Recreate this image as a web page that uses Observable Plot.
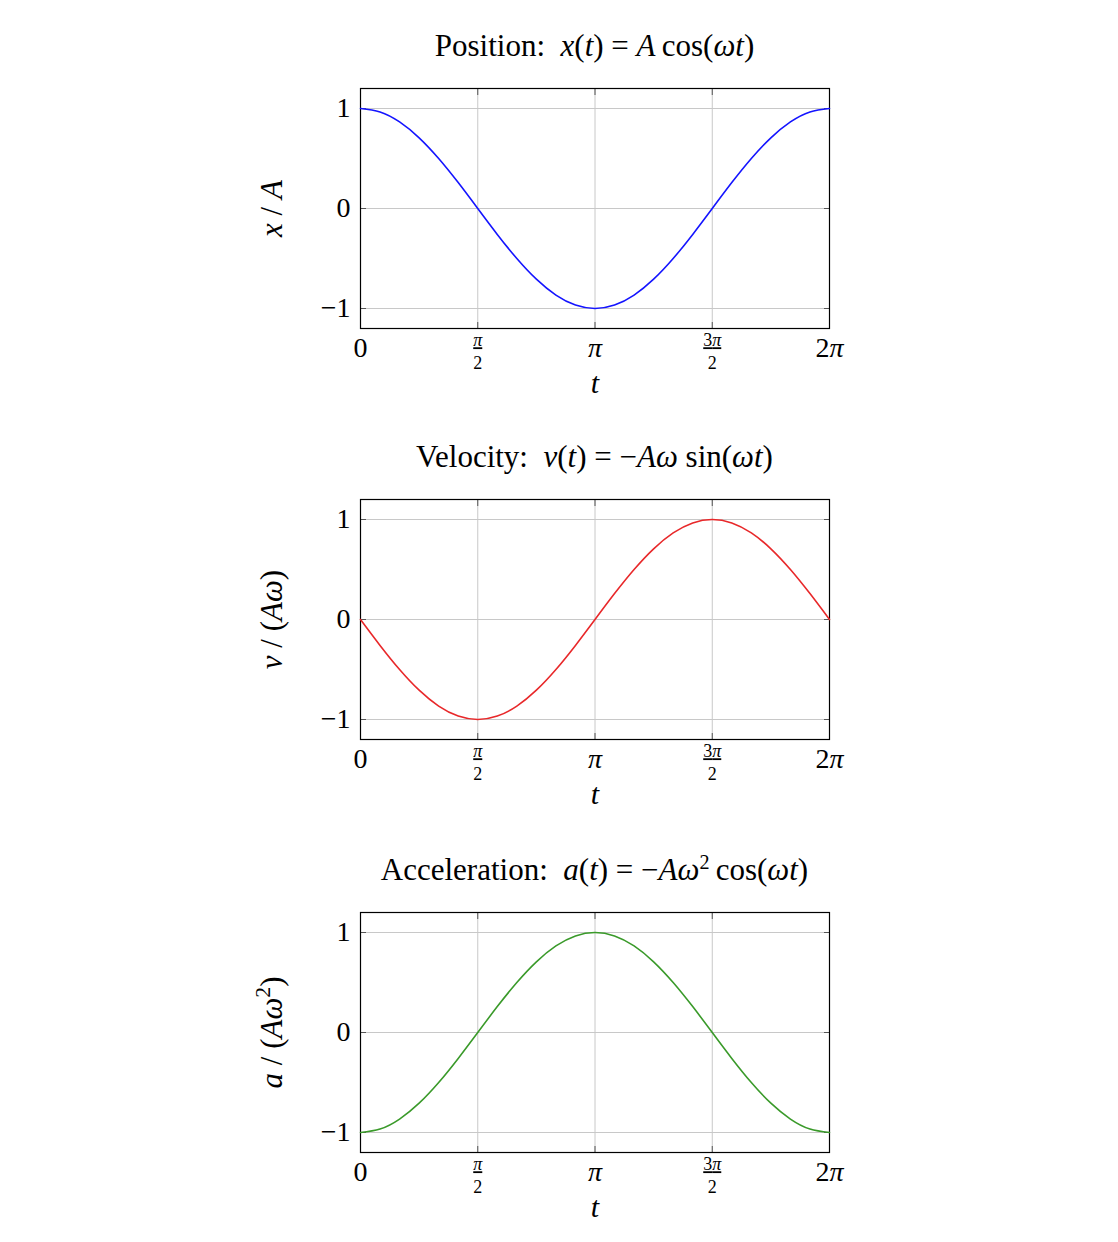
<!DOCTYPE html>
<html>
<head>
<meta charset="utf-8">
<script src="https://cdn.jsdelivr.net/npm/d3@7"></script>
<script src="https://cdn.jsdelivr.net/npm/@observablehq/plot@0.6"></script>
<style>
  html, body { margin: 0; padding: 0; background: #fff; }
  #root { position: relative; width: 1118px; height: 1242px; font-family: "Liberation Serif", serif; }
  .panel { position: absolute; left: 0; width: 1118px; }
  .title { position: absolute; left: 200px; width: 789px; text-align: center; font-size: 31px; line-height: 34px; color: #000; white-space: pre; }
  .title i { font-style: italic; }
</style>
</head>
<body>
<div id="root"></div>
<script>
// time samples in units of π (0 … 2π, step π/12)
const tOverPi = [0, 1/12, 2/12, 3/12, 4/12, 5/12, 6/12, 7/12, 8/12, 9/12, 10/12, 11/12, 1,
  13/12, 14/12, 15/12, 16/12, 17/12, 18/12, 19/12, 20/12, 21/12, 22/12, 23/12, 2];

// values (normalised)
const position = [1, 0.966, 0.866, 0.707, 0.5, 0.259, 0, -0.259, -0.5, -0.707, -0.866, -0.966, -1,
  -0.966, -0.866, -0.707, -0.5, -0.259, 0, 0.259, 0.5, 0.707, 0.866, 0.966, 1];
const velocity = [0, -0.259, -0.5, -0.707, -0.866, -0.966, -1, -0.966, -0.866, -0.707, -0.5, -0.259, 0,
  0.259, 0.5, 0.707, 0.866, 0.966, 1, 0.966, 0.866, 0.707, 0.5, 0.259, 0];
const acceleration = [-1, -0.966, -0.866, -0.707, -0.5, -0.259, 0, 0.259, 0.5, 0.707, 0.866, 0.966, 1,
  0.966, 0.866, 0.707, 0.5, 0.259, 0, -0.259, -0.5, -0.707, -0.866, -0.966, -1];

// tick labels
const xTickPos = [0, 0.5, 1, 1.5, 2];
const xTickNum = ["0", "π", "π", "3π", "2π"];
const xTickDen = [null, "2", null, "2", null];
const yTicks = [-1, 0, 1];

const panels = [
  { values: position, color: "#1414ff", top: 0,
    title: [["Position:  ", false], ["x", true], ["(", false], ["t", true], [")\u2005=\u2005", false], ["A", true], ["\u2009cos(", false], ["ω", true], ["t", true], [")", false]],
    ylabel: [["x", true], [" / ", false], ["A", true]] },
  { values: velocity, color: "#e8282a", top: 411,
    title: [["Velocity:  ", false], ["v", true], ["(", false], ["t", true], [")\u2005=\u2005−", false], ["A", true], ["ω", true], [" sin(", false], ["ω", true], ["t", true], [")", false]],
    ylabel: [["v", true], [" / (", false], ["A", true], ["ω", true], [")", false]] },
  { values: acceleration, color: "#3a9a2a", top: 824,
    title: [["Acceleration:  ", false], ["a", true], ["(", false], ["t", true], [")\u2005=\u2005−", false], ["A", true], ["ω", true], ["2", false, true], ["\u2009cos(", false], ["ω", true], ["t", true], [")", false]],
    ylabel: [["a", true], [" / (", false], ["A", true], ["ω", true], ["2", false, true], [")", false]] }
];

const root = document.getElementById("root");
const fmtY = d => d < 0 ? "−" + (-d) : String(d);

function fillRich(sel, parts) {
  sel.text(null);
  for (const [s, it, sup] of parts) {
    const ts = sel.append("tspan").text(s);
    if (it) ts.attr("font-style", "italic");
    if (sup) ts.attr("font-size", "0.7em").attr("baseline-shift", "super");
  }
}
// set π in math italic inside a tick label
function italicPi(textSel) {
  textSel.each(function () {
    const s = this.textContent;
    if (!s.includes("π")) return;
    const el = d3.select(this);
    const parts = s.split(/(π)/).filter(x => x.length).map(x => [x, x === "π"]);
    fillRich(el, parts);
  });
}

const NUM_FILL = "#000001";
const YLAB_FILL = "#000002";
const XT_FILL = "#000003";
const DEN_FILL = "#000004";

for (const p of panels) {
  const data = tOverPi.map((t, i) => ({ t, v: p.values[i] }));
  const ticks = xTickPos.map((x, i) => ({ x, num: xTickNum[i], den: xTickDen[i] }));

  const chart = Plot.plot({
    width: 1118,
    height: 411,
    marginLeft: 360,
    marginRight: 289,
    marginTop: 88,
    marginBottom: 83,
    style: { fontFamily: "Liberation Serif, serif", background: "transparent", overflow: "visible" },
    x: { domain: [0, 2], ticks: xTickPos },
    y: { domain: [-1.2, 1.2], ticks: yTicks },
    marks: [
      Plot.gridX(xTickPos, { stroke: "#c8c8c8", strokeOpacity: 1, strokeWidth: 1 }),
      Plot.gridY(yTicks, { stroke: "#c8c8c8", strokeOpacity: 1, strokeWidth: 1 }),
      Plot.axisX(xTickPos, { anchor: "bottom", tickSize: -6, tickFormat: null, stroke: "#555", label: null, text: null }),
      Plot.axisX(xTickPos, { anchor: "top", tickSize: -6, tickFormat: null, stroke: "#555", label: null, text: null }),
      Plot.axisY(yTicks, { anchor: "left", tickSize: 0, tickPadding: 10, tickFormat: fmtY, fontSize: 28, fill: "#000", label: null }),
      Plot.axisY(yTicks, { anchor: "left", tickSize: -6, tickFormat: null, stroke: "#555", label: null, text: null }),
      Plot.axisY(yTicks, { anchor: "right", tickSize: -6, tickFormat: null, stroke: "#555", label: null, text: null }),
      Plot.frame({ stroke: "#000", strokeWidth: 1.2 }),
      Plot.line(data, { x: "t", y: "v", stroke: p.color, strokeWidth: 1.6, curve: "natural" }),
      // whole-number x tick labels
      Plot.text(ticks.filter(d => !d.den), { x: "x", text: "num", frameAnchor: "bottom", lineAnchor: "middle", dy: 20, fontSize: 28, fill: XT_FILL }),
      // fraction numerators (underlined as the fraction bar)
      Plot.text(ticks.filter(d => d.den), { x: "x", text: "num", frameAnchor: "bottom", lineAnchor: "middle", dy: 12, fontSize: 18, fill: NUM_FILL }),
      // fraction denominators
      Plot.text(ticks.filter(d => d.den), { x: "x", text: "den", frameAnchor: "bottom", lineAnchor: "middle", dy: 35, fontSize: 18, fill: DEN_FILL }),
      // x label
      Plot.text(["t"], { frameAnchor: "bottom", lineAnchor: "middle", dy: 55, fontSize: 30, fontStyle: "italic", fill: "#000" }),
      // y label (rich text filled in below)
      Plot.text(["ylabel"], { frameAnchor: "left", rotate: -90, dx: -88, textAnchor: "middle", lineAnchor: "middle", fontSize: 31, fill: YLAB_FILL })
    ]
  });

  const svg = d3.select(chart);
  const num = svg.selectAll(`g[fill="${NUM_FILL}"]`).attr("fill", "#000").selectAll("text");
  italicPi(num);
  num.style("text-decoration", "underline")
     .style("text-underline-offset", "4px")
     .style("text-decoration-thickness", "1px");
  svg.selectAll(`g[fill="${DEN_FILL}"]`).attr("fill", "#000");
  italicPi(svg.selectAll(`g[fill="${XT_FILL}"]`).attr("fill", "#000").selectAll("text"));
  const yl = svg.select(`g[fill="${YLAB_FILL}"]`).attr("fill", "#000");
  fillRich(yl.select("text"), p.ylabel);

  const panel = document.createElement("div");
  panel.className = "panel";
  panel.style.top = p.top + "px";
  panel.appendChild(chart);

  const title = document.createElement("div");
  title.className = "title";
  title.style.top = "29px";
  for (const [s, it, sup] of p.title) {
    const el = document.createElement(sup ? "sup" : (it ? "i" : "span"));
    el.textContent = s;
    if (sup) { el.style.fontSize = "0.65em"; el.style.lineHeight = "0"; }
    title.appendChild(el);
  }
  panel.appendChild(title);
  root.appendChild(panel);
}
</script>
</body>
</html>
